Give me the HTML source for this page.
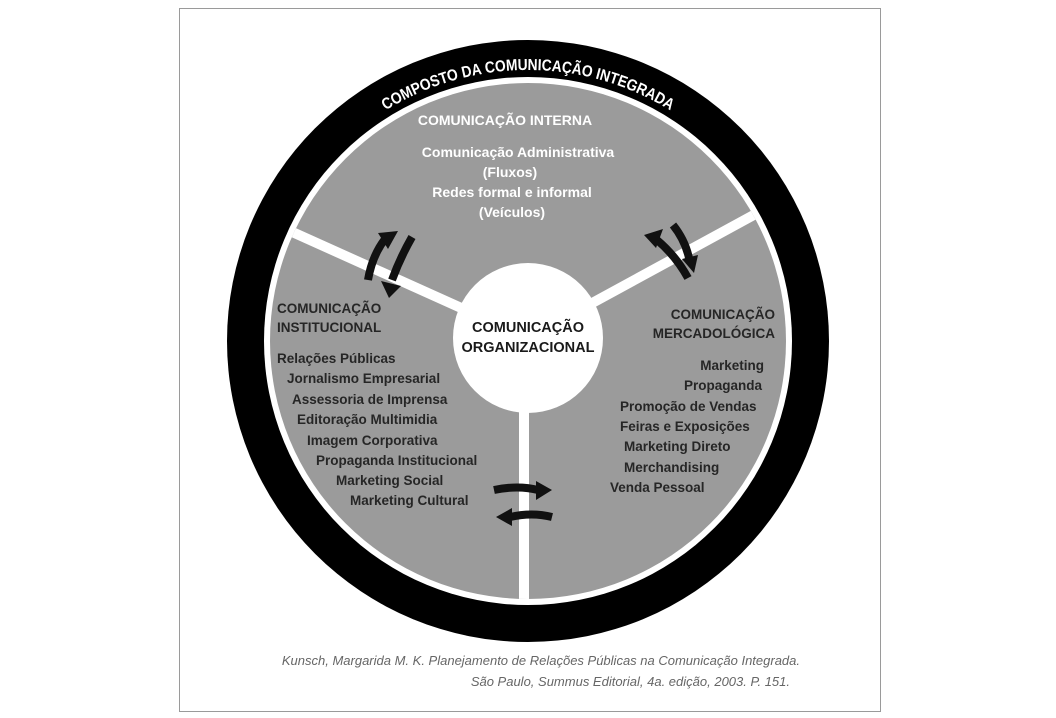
<!DOCTYPE html>
<html><head><meta charset="utf-8"><style>
html,body{margin:0;padding:0;background:#fff;}
svg{display:block;}
</style></head><body>
<svg width="1056" height="718" viewBox="0 0 1056 718" xmlns="http://www.w3.org/2000/svg" font-family="Liberation Sans, DejaVu Sans, sans-serif">
<rect x="179.5" y="8.5" width="701" height="703" fill="#fff" stroke="#9a9a9a" stroke-width="1"/>
<circle cx="528" cy="341" r="301" fill="#000"/>
<circle cx="528" cy="341" r="264" fill="#fff"/>
<circle cx="528" cy="341" r="258" fill="#9b9b9b"/>
<defs>
<clipPath id="gc"><circle cx="528" cy="341" r="258"/></clipPath>
<path id="arc" d="M 257 341 A 271 271 0 0 1 799 341"/>
</defs>
<g stroke="#fff" stroke-width="10" stroke-linecap="butt" clip-path="url(#gc)">
<line x1="528" y1="338" x2="270" y2="222"/>
<line x1="528" y1="338" x2="785" y2="198"/>
<line x1="524" y1="338" x2="524" y2="610"/>
</g>
<circle cx="528" cy="338" r="75" fill="#fff"/>
<text font-size="16" font-weight="bold" fill="#fff"><textPath href="#arc" startOffset="50%" text-anchor="middle" textLength="300" lengthAdjust="spacingAndGlyphs">COMPOSTO DA COMUNICAÇÃO INTEGRADA</textPath></text>
<g fill="#fff" font-weight="bold" font-size="14" text-anchor="middle">
<text x="505" y="125">COMUNICAÇÃO INTERNA</text>
<text x="518" y="157">Comunicação Administrativa</text>
<text x="510" y="177">(Fluxos)</text>
<text x="512" y="197">Redes formal e informal</text>
<text x="512" y="217">(Veículos)</text>
</g>
<g fill="#1a1a1a" font-weight="bold" font-size="14.5" text-anchor="middle">
<text x="528" y="332">COMUNICAÇÃO</text>
<text x="528" y="352">ORGANIZACIONAL</text>
</g>
<g fill="#262626" font-weight="bold" font-size="13.5">
<text x="277" y="313">COMUNICAÇÃO</text>
<text x="277" y="332">INSTITUCIONAL</text>
<text x="277" y="363">Relações Públicas</text>
<text x="287" y="383">Jornalismo Empresarial</text>
<text x="292" y="404">Assessoria de Imprensa</text>
<text x="297" y="424">Editoração Multimidia</text>
<text x="307" y="445">Imagem Corporativa</text>
<text x="316" y="465">Propaganda Institucional</text>
<text x="336" y="485">Marketing Social</text>
<text x="350" y="505">Marketing Cultural</text>
</g>
<g fill="#262626" font-weight="bold" font-size="13.5">
<text x="775" y="319" text-anchor="end">COMUNICAÇÃO</text>
<text x="775" y="338" text-anchor="end">MERCADOLÓGICA</text>
<text x="764" y="370" text-anchor="end">Marketing</text>
<text x="762" y="390" text-anchor="end">Propaganda</text>
<text x="620" y="411">Promoção de Vendas</text>
<text x="620" y="431">Feiras e Exposições</text>
<text x="624" y="451">Marketing Direto</text>
<text x="624" y="472">Merchandising</text>
<text x="610" y="492">Venda Pessoal</text>
</g>
<g fill="none" stroke="#111" stroke-width="8">
<path d="M 368 280 Q 372 256 385 239"/>
<path d="M 412 237 Q 400 258 392 280"/>
<path d="M 688 278 Q 676 256 657 240"/>
<path d="M 673 225 Q 685 240 689 258"/>
<path d="M 494 490 Q 518 485 538 490"/>
<path d="M 552 517 Q 532 512 510 517"/>
</g>
<g fill="#111">
<polygon points="378,233 398,231 388,249"/>
<polygon points="381,281 401,286 389,298"/>
<polygon points="644,235 663,229 656,248"/>
<polygon points="682,259 698,255 694,273"/>
<polygon points="536,481 552,490 536,500"/>
<polygon points="512,508 496,517 512,526"/>
</g>
<g fill="#666" font-style="italic" font-size="13" text-anchor="end">
<text x="800" y="665">Kunsch, Margarida M. K. Planejamento de Relações Públicas na Comunicação Integrada.</text>
<text x="790" y="686">São Paulo, Summus Editorial, 4a. edição, 2003. P. 151.</text>
</g>
</svg>
</body></html>
